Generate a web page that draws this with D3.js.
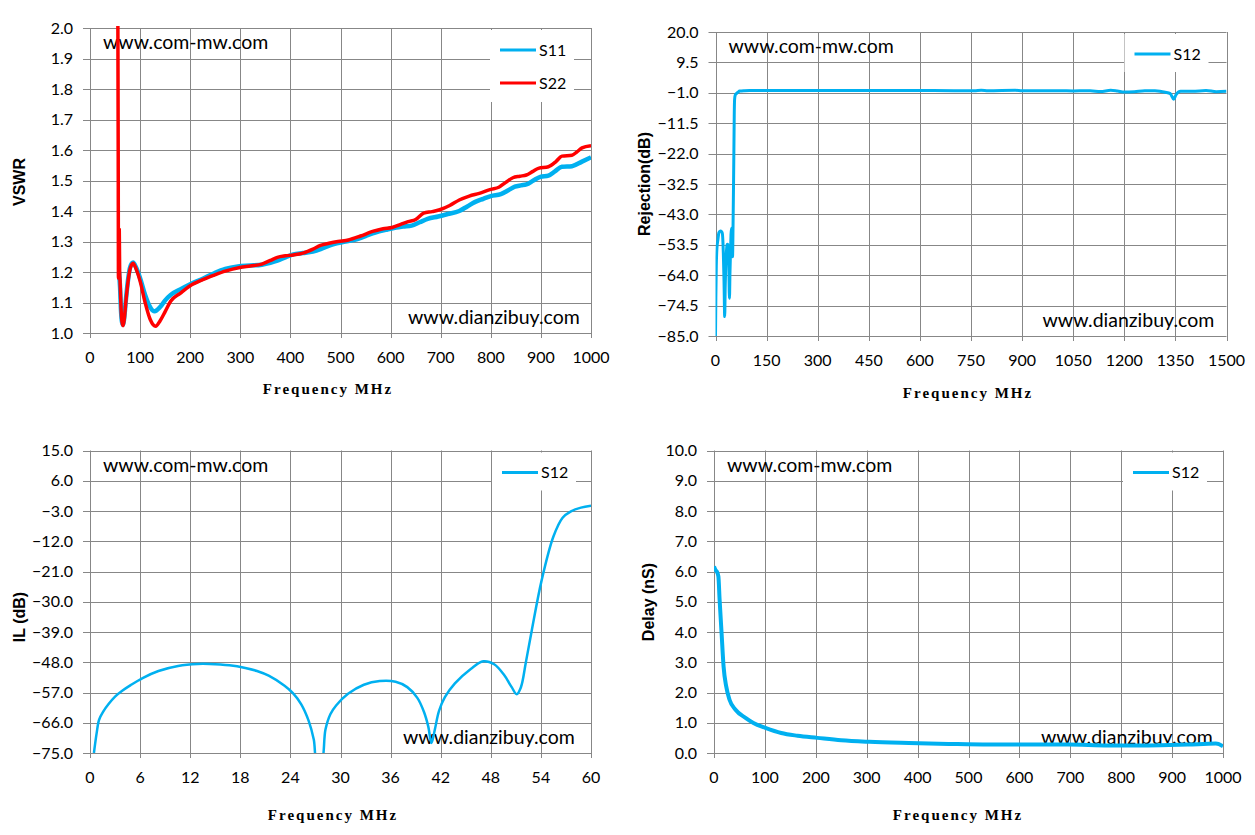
<!DOCTYPE html>
<html>
<head>
<meta charset="utf-8">
<script src="https://cdn.jsdelivr.net/npm/d3@7"></script>
<style>
  body { margin: 0; background: #fff; }
  svg text { fill: #000; }
</style>
</head>
<body>
<div id="chart"></div>
<script>
// ---- VSWR panel (top left) ----
const vswrFreqTicks = [0, 100, 200, 300, 400, 500, 600, 700, 800, 900, 1000];
const vswrTicks = [1.0, 1.1, 1.2, 1.3, 1.4, 1.5, 1.6, 1.7, 1.8, 1.9, 2.0];
const vswrS11 = [[58,1.2],[60,1.15],[62,1.07],[64,1.035],[66,1.027],[68,1.045],[72,1.115],[76,1.175],[80,1.215],[86,1.231],[92,1.215],[100,1.18],[110,1.125],[120,1.085],[129,1.071],[140,1.085],[150,1.107],[161,1.125],[180,1.143],[200,1.16],[225,1.178],[248,1.196],[270,1.21],[295,1.218],[320,1.221],[343,1.224],[360,1.23],[374,1.237],[390,1.248],[406,1.258],[425,1.262],[445,1.267],[465,1.278],[485,1.291],[510,1.3],[532,1.307],[550,1.318],[571,1.33],[590,1.338],[611,1.346],[625,1.349],[642,1.352],[658,1.363],[674,1.374],[695,1.382],[714,1.39],[737,1.4],[753,1.415],[769,1.43],[785,1.44],[800,1.449],[820,1.455],[835,1.468],[848,1.48],[860,1.484],[871,1.487],[885,1.5],[899,1.512],[915,1.516],[928,1.53],[942,1.545],[962,1.547],[982,1.562],[1000,1.576]];
const vswrS22 = [[55.5,2.1],[56.3,1.6],[56.8,1.18],[57.6,1.25],[58.4,1.34],[59.2,1.2],[60,1.17],[62,1.08],[64,1.035],[66,1.024],[68,1.04],[72,1.11],[76,1.17],[80,1.21],[86,1.229],[92,1.21],[100,1.17],[110,1.1],[120,1.045],[131,1.022],[140,1.04],[150,1.07],[161,1.104],[180,1.13],[200,1.155],[225,1.175],[248,1.19],[270,1.203],[299,1.215],[320,1.22],[343,1.226],[360,1.238],[374,1.248],[390,1.253],[406,1.256],[425,1.262],[445,1.275],[460,1.287],[477,1.294],[495,1.3],[516,1.305],[540,1.318],[564,1.333],[585,1.342],[603,1.346],[620,1.356],[635,1.365],[650,1.372],[666,1.393],[683,1.398],[698,1.404],[718,1.418],[737,1.436],[757,1.449],[777,1.458],[800,1.471],[816,1.478],[830,1.494],[844,1.509],[858,1.514],[871,1.518],[884,1.53],[895,1.54],[915,1.545],[930,1.562],[942,1.58],[962,1.583],[972,1.594],[982,1.607],[1000,1.614]];

// ---- Rejection panel (top right) ----
const rejFreqTicks = [0, 150, 300, 450, 600, 750, 900, 1050, 1200, 1350, 1500];
const rejTicks = [-85.0, -74.5, -64.0, -53.5, -43.0, -32.5, -22.0, -11.5, -1.0, 9.5, 20.0];
const rejS12 = [[0,-85],[1,-72],[2.3,-61],[4,-55],[7,-51.8],[10,-49.3],[14,-48.7],[18,-49],[20,-49.5],[22,-53],[23,-56.4],[25,-66],[27,-78.3],[28.5,-68],[30,-61],[32,-56],[34,-53.5],[35.5,-53.3],[37,-54],[39,-60],[41,-72],[42.5,-63],[44,-56.4],[45.5,-50],[47,-47.8],[48.5,-50],[50,-57.6],[51.5,-47],[53,-32],[54,-20.7],[55,-9],[56,-3.4],[58,-1.8],[61,-1.3],[66,-0.8],[71,-0.4],[85,-0.25],[100,-0.2],[200,-0.2],[300,-0.2],[400,-0.2],[500,-0.2],[600,-0.2],[700,-0.25],[760,-0.3],[780,-0.15],[800,-0.3],[880,-0.15],[900,-0.3],[1000,-0.3],[1050,-0.35],[1100,-0.3],[1130,-0.55],[1160,-0.15],[1180,-0.4],[1200,-0.75],[1230,-0.6],[1260,-0.25],[1290,-0.3],[1320,-0.8],[1335,-1.3],[1345,-3.2],[1352,-1.6],[1365,-0.5],[1400,-0.5],[1440,-0.2],[1470,-0.6],[1500,-0.5]];

// ---- Insertion loss panel (bottom left) ----
const ilFreqTicks = [0, 6, 12, 18, 24, 30, 36, 42, 48, 54, 60];
const ilTicks = [-75.0, -66.0, -57.0, -48.0, -39.0, -30.0, -21.0, -12.0, -3.0, 6.0, 15.0];
const ilS12 = [[0.47,-75],[0.8,-69],[1.09,-65.1],[1.6,-62.6],[2.2,-60.5],[3.0,-58.2],[3.9,-56.4],[4.87,-54.8],[6.3,-52.7],[8.2,-50.6],[10.55,-49.1],[12.9,-48.5],[14.3,-48.5],[16.7,-48.9],[18.6,-49.7],[20,-50.6],[21.4,-52.0],[23.3,-55.0],[24.3,-57.2],[25.3,-60.5],[26.2,-65.5],[26.8,-71],[27.2,-78],[27.7,-78],[28.2,-68],[28.8,-63.4],[29.5,-60.8],[30.9,-57.4],[32.8,-54.7],[34.7,-53.6],[36.6,-53.8],[38.0,-55.4],[39.2,-58.6],[40.0,-62.8],[40.5,-67],[40.9,-72],[41.3,-68],[41.8,-62.5],[42.5,-58.4],[43.7,-54.3],[45.6,-50.0],[47.1,-47.7],[48.4,-48.6],[49.6,-51.8],[50.5,-55.4],[51.1,-57.5],[51.6,-55.5],[52.2,-48],[52.9,-38.6],[54.1,-23.5],[55.5,-10.6],[56.6,-5.0],[57.6,-3.1],[58.8,-2.0],[60,-1.4]];

// ---- Group delay panel (bottom right) ----
const delayFreqTicks = [0, 100, 200, 300, 400, 500, 600, 700, 800, 900, 1000];
const delayTicks = [0.0, 1.0, 2.0, 3.0, 4.0, 5.0, 6.0, 7.0, 8.0, 9.0, 10.0];
const delayS12 = [[0,6.17],[3,6.05],[5.5,6.0],[8.6,5.84],[11,5.07],[14.9,3.96],[18.8,2.86],[24,2.2],[30.5,1.76],[42.3,1.43],[61.9,1.16],[77.5,0.99],[101,0.83],[132,0.66],[164,0.57],[203,0.5],[250,0.42],[305,0.37],[383,0.33],[461,0.3],[540,0.28],[618,0.28],[696,0.28],[775,0.25],[853,0.25],[931,0.28],[986,0.31],[1000,0.22]];

const BLUE = "#00B0F0";
const RED = "#FF0000";
const GRID = "#878787";
const tickFont = "Lato, 'Open Sans', sans-serif";

const svg = d3.select("#chart").append("svg")
  .attr("width", 1255)
  .attr("height", 835);

let clipId = 0;

function drawPanel(p) {
  const x = d3.scaleLinear().domain(d3.extent(p.xTicks)).range([p.left, p.right]);
  const y = d3.scaleLinear().domain(d3.extent(p.yTicks)).range([p.bottom, p.top]);
  const g = svg.append("g");

  // gridlines
  g.append("g").selectAll("line.h").data(p.yTicks).join("line")
    .attr("x1", p.left - 7).attr("x2", p.right)
    .attr("y1", d => Math.round(y(d)) + 0.5).attr("y2", d => Math.round(y(d)) + 0.5)
    .attr("stroke", GRID).attr("stroke-width", 1);
  g.append("g").selectAll("line.v").data(p.xTicks).join("line")
    .attr("x1", d => Math.round(x(d)) + 0.5).attr("x2", d => Math.round(x(d)) + 0.5)
    .attr("y1", p.top).attr("y2", p.bottom + 5)
    .attr("stroke", GRID).attr("stroke-width", 1);

  // tick labels
  g.append("g").selectAll("text").data(p.yTicks).join("text")
    .attr("x", p.left - 17).attr("y", d => y(d))
    .attr("dy", "0.35em").attr("text-anchor", "end")
    .style("font-family", tickFont).style("font-size", "16px")
    .text(d => d3.format(".1f")(d));
  g.append("g").selectAll("text").data(p.xTicks).join("text")
    .attr("x", d => x(d)).attr("y", p.bottom + 30)
    .attr("text-anchor", "middle")
    .style("font-family", tickFont).style("font-size", "16px")
    .text(d => d);

  // axis titles
  g.append("text")
    .attr("transform", `translate(${p.yTitleX},${p.yTitleY}) rotate(-90)`)
    .attr("text-anchor", "middle").attr("dy", "0.35em")
    .style("font-family", "'Liberation Sans', Arial, sans-serif")
    .style("font-size", "16px").style("font-weight", "bold")
    .text(p.yTitle);
  g.append("text")
    .attr("x", p.xTitleX).attr("y", p.bottom + p.xTitleDy)
    .attr("text-anchor", "middle")
    .style("font-family", "'Liberation Serif', 'DejaVu Serif', serif")
    .style("font-size", "15px").style("font-weight", "bold")
    .style("letter-spacing", "2px")
    .text("Frequency MHz");

  // watermarks
  g.append("text").attr("x", p.left + 13).attr("y", p.top + 21)
    .style("font-family", tickFont).style("font-size", "19.5px")
    .text("www.com-mw.com");
  g.append("text").attr("x", p.left + p.wmDx).attr("y", p.bottom - 9)
    .style("font-family", tickFont).style("font-size", "19.5px")
    .text("www.dianzibuy.com");

  // series
  const id = "clip" + (clipId++);
  svg.append("clipPath").attr("id", id).append("rect")
    .attr("x", p.left).attr("y", p.top - 2)
    .attr("width", p.right - p.left).attr("height", p.bottom - p.top + 2);
  const line = d3.line().x(d => x(d[0])).y(d => y(d[1])).curve(p.curve || d3.curveMonotoneX);
  g.append("g").attr("clip-path", `url(#${id})`)
    .selectAll("path").data(p.series).join("path")
    .attr("d", s => line(s.values))
    .attr("fill", "none")
    .attr("stroke", s => s.color)
    .attr("stroke-width", s => s.width)
    .attr("stroke-linejoin", "round");

  // legend
  const lg = g.append("g");
  lg.append("rect")
    .attr("x", p.right - p.legendDx).attr("y", p.top + 2)
    .attr("width", 84).attr("height", p.series.length * 34 + 4)
    .attr("fill", "#fff");
  p.series.forEach((s, i) => {
    const ly = p.top + 22 + i * 33;
    lg.append("line")
      .attr("x1", p.right - p.legendDx + 10).attr("x2", p.right - p.legendDx + 46)
      .attr("y1", ly).attr("y2", ly)
      .attr("stroke", s.color).attr("stroke-width", 3);
    lg.append("text")
      .attr("x", p.right - p.legendDx + 49).attr("y", ly).attr("dy", "0.35em")
      .style("font-family", tickFont).style("font-size", "16px")
      .text(s.name);
  });
}

drawPanel({
  left: 90, right: 591, top: 28, bottom: 333,
  xTicks: vswrFreqTicks, yTicks: vswrTicks,
  yTitle: "VSWR", yTitleX: 19, yTitleY: 182,
  xTitleX: 328, xTitleDy: 61, wmDx: 318, legendDx: 101,
  series: [
    { name: "S11", values: vswrS11, color: BLUE, width: 4.5 },
    { name: "S22", values: vswrS22, color: RED, width: 3.5 }
  ]
});

drawPanel({
  left: 715.5, right: 1226.5, top: 32, bottom: 336,
  xTicks: rejFreqTicks, yTicks: rejTicks,
  yTitle: "Rejection(dB)", yTitleX: 644, yTitleY: 184,
  xTitleX: 968, xTitleDy: 62, wmDx: 327, legendDx: 102,
  series: [
    { name: "S12", values: rejS12, color: BLUE, width: 3 }
  ]
});

drawPanel({
  left: 90, right: 591, top: 450.5, bottom: 753,
  xTicks: ilFreqTicks, yTicks: ilTicks,
  yTitle: "IL (dB)", yTitleX: 19, yTitleY: 617,
  xTitleX: 333, xTitleDy: 67, wmDx: 313, legendDx: 99,
  curve: d3.curveCatmullRom.alpha(0.5),
  series: [
    { name: "S12", values: ilS12, color: BLUE, width: 2.5 }
  ]
});

drawPanel({
  left: 714, right: 1223, top: 450.5, bottom: 753,
  xTicks: delayFreqTicks, yTicks: delayTicks,
  yTitle: "Delay (nS)", yTitleX: 648, yTitleY: 602,
  xTitleX: 958, xTitleDy: 67, wmDx: 327, legendDx: 100,
  series: [
    { name: "S12", values: delayS12, color: BLUE, width: 4 }
  ]
});
</script>
</body>
</html>
